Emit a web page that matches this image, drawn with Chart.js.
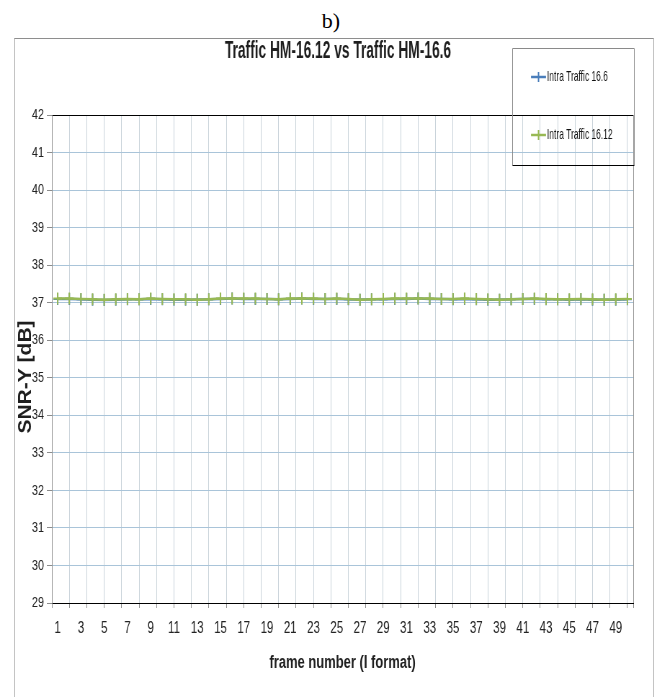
<!DOCTYPE html>
<html>
<head>
<meta charset="utf-8">
<title>Traffic HM-16.12 vs Traffic HM-16.6</title>
<script src="https://cdn.jsdelivr.net/npm/chart.js@4.4.0/dist/chart.umd.min.js"></script>
<style>
  html, body { margin: 0; padding: 0; background: #fff; }
  body { width: 657px; height: 697px; position: relative; overflow: hidden; }
  #panel {
    position: absolute; left: 0; top: 8px; width: 662px;
    text-align: center; line-height: 1;
    font: 22px 'Liberation Serif', 'DejaVu Serif', serif; color: #000;
  }
  #frame {
    position: absolute; left: 14px; top: 38px; width: 640px; height: 700px;
    box-sizing: border-box; border: 1px solid #c4c4c4; border-top-color: #8e8e8e;
  }
  #c { position: absolute; left: 0; top: 0; }
</style>
</head>
<body>
<div id="panel">b)</div>
<div id="frame"></div>
<!-- the drawing surface is wider than its box and squeezed horizontally -->
<canvas id="c" width="912" height="697" style="width:657px;height:697px"></canvas>
<script>
// ---- data ----
const frames = [1, 2, 3, 4, 5, 6, 7, 8, 9, 10, 11, 12, 13, 14, 15, 16, 17, 18, 19, 20,
                21, 22, 23, 24, 25, 26, 27, 28, 29, 30, 31, 32, 33, 34, 35, 36, 37, 38, 39, 40,
                41, 42, 43, 44, 45, 46, 47, 48, 49, 50];
const xTickLabels = [1, 3, 5, 7, 9, 11, 13, 15, 17, 19, 21, 23, 25, 27, 29, 31, 33, 35, 37, 39, 41, 43, 45, 47, 49];
const yRange = [29, 42];
const seriesNames = ['Intra Traffic 16.6', 'Intra Traffic 16.12'];
const snrTraffic16_6 = [37.10, 37.10, 37.09, 37.08, 37.07, 37.08, 37.09, 37.09, 37.10, 37.09,
                        37.08, 37.08, 37.08, 37.09, 37.10, 37.11, 37.10, 37.10, 37.10, 37.09,
                        37.10, 37.11, 37.10, 37.10, 37.10, 37.09, 37.08, 37.09, 37.09, 37.10,
                        37.10, 37.11, 37.10, 37.10, 37.09, 37.10, 37.09, 37.08, 37.08, 37.09,
                        37.10, 37.10, 37.09, 37.09, 37.08, 37.09, 37.08, 37.08, 37.08, 37.09];
const snrTraffic16_12 = [37.11, 37.11, 37.10, 37.09, 37.08, 37.09, 37.10, 37.09, 37.11, 37.10,
                         37.09, 37.09, 37.08, 37.09, 37.11, 37.11, 37.11, 37.11, 37.10, 37.09,
                         37.11, 37.11, 37.11, 37.10, 37.11, 37.10, 37.08, 37.09, 37.10, 37.11,
                         37.11, 37.11, 37.11, 37.10, 37.10, 37.11, 37.10, 37.09, 37.08, 37.09,
                         37.10, 37.11, 37.10, 37.09, 37.09, 37.10, 37.09, 37.08, 37.09, 37.10];
const chartTitle = 'Traffic HM-16.12 vs Traffic HM-16.6';
const xTitle = 'frame number (I format)';
const yTitle = 'SNR-Y [dB]';

// ---- layout helpers ----
const canvas = document.getElementById('c');
const SQUEEZE = 657 / canvas.width;          // horizontal squeeze of the drawing surface
const cx = x => x / SQUEEZE;                   // page x -> canvas x
const SANS = "'Liberation Sans', Arial, sans-serif";
const BLUE = '#4a7ebb';
const GREEN = '#98b954';

const points = vals => frames.map((f, i) => ({ x: f, y: vals[i] }));

// condensed text: squeeze glyphs horizontally by k around (x, y)
function narrowText(ctx, text, x, y, k) {
  ctx.save();
  ctx.translate(x, y);
  ctx.scale(k, 1);
  ctx.fillText(text, 0, 0);
  ctx.restore();
}

// chart title, vertical axis title and the boxed key
const headerAndKey = {
  id: 'headerAndKey',
  afterDraw(chart) {
    const ctx = chart.ctx;
    ctx.save();
    ctx.fillStyle = '#1e1e1e';
    ctx.textBaseline = 'middle';

    ctx.font = `bold 23px ${SANS}`;
    ctx.textAlign = 'center';
    narrowText(ctx, chartTitle, cx(338), 52, 0.83);

    // vertical axis title, read bottom to top
    ctx.save();
    ctx.translate(cx(26), 377);
    ctx.rotate(-Math.PI / 2);
    ctx.scale(1, 1.2);
    ctx.font = `bold 21px ${SANS}`;
    ctx.fillText(yTitle, 0, 0);
    ctx.restore();

    const L = Math.round(cx(512)) + 0.5, R = Math.round(cx(634)) + 0.5, T = 48.5, B = 165.5;
    ctx.lineWidth = 1;
    ctx.strokeStyle = '#8a8a8a';
    ctx.beginPath();
    ctx.moveTo(L, B); ctx.lineTo(L, T); ctx.lineTo(R, T); ctx.lineTo(R, B);
    ctx.stroke();
    ctx.strokeStyle = '#000';
    ctx.beginPath(); ctx.moveTo(L, B); ctx.lineTo(R, B); ctx.stroke();

    const rows = [77, 135];
    chart.data.datasets.forEach((ds, i) => {
      const y = rows[i];
      ctx.strokeStyle = ds.borderColor;
      ctx.lineWidth = 2.5;
      ctx.beginPath(); ctx.moveTo(cx(531), y); ctx.lineTo(cx(546), y); ctx.stroke();
      const mx = cx(538.5);
      ctx.lineWidth = 2;
      ctx.beginPath();
      ctx.moveTo(mx, y - 5); ctx.lineTo(mx, y + 5);
      ctx.moveTo(mx - 6, y); ctx.lineTo(mx + 6, y);
      ctx.stroke();
      ctx.fillStyle = '#111';
      ctx.font = `15px ${SANS}`;
      ctx.textAlign = 'left';
      narrowText(ctx, ds.label, cx(547), y, 0.78);
    });
    ctx.restore();
  }
};

new Chart(canvas, {
  type: 'line',
  data: {
    datasets: [
      {
        label: seriesNames[0], data: points(snrTraffic16_6), order: 2,
        borderColor: BLUE, backgroundColor: BLUE, borderWidth: 2.5,
        pointStyle: 'cross', pointRadius: 6, pointBorderWidth: 2, pointBorderColor: BLUE
      },
      {
        label: seriesNames[1], data: points(snrTraffic16_12), order: 1,
        borderColor: GREEN, backgroundColor: GREEN, borderWidth: 2.5,
        pointStyle: 'cross', pointRadius: 6, pointBorderWidth: 2, pointBorderColor: GREEN
      }
    ]
  },
  options: {
    responsive: false,
    animation: false,
    devicePixelRatio: 1,
    layout: { padding: { top: 115, right: canvas.width - Math.round(cx(633)), left: 0, bottom: 0 } },
    elements: { line: { tension: 0 } },
    plugins: { legend: { display: false }, title: { display: false }, tooltip: { enabled: false } },
    scales: {
      x: {
        type: 'linear',
        min: 0.5,
        max: 50.5,
        afterBuildTicks(scale) {
          // vertical rules every 1.5 frames, labels on odd frames
          const ticks = [];
          for (let k = 0; scale.min + 1.5 * k <= scale.max; k++) ticks.push({ value: scale.min + 1.5 * k, rule: true });
          ticks.push({ value: scale.max, rule: true, edge: true });
          xTickLabels.forEach(v => ticks.push({ value: v, rule: false }));
          ticks.sort((a, b) => a.value - b.value);
          scale.ticks = ticks;
        },
        afterFit(scale) { scale.height = 94; },
        ticks: {
          autoSkip: false, maxRotation: 0, padding: 11, color: '#222',
          font: { family: SANS, size: 16 },
          callback: (v, i, t) => (t[i].rule ? '' : String(v))
        },
        grid: {
          lineWidth: 1,
          tickLength: 5,
          color: c => (c.tick && c.tick.rule ? (c.tick.edge ? '#9a9a9a' : '#c9d3da') : 'rgba(0,0,0,0)'),
          tickColor: c => (c.tick && c.tick.rule ? '#8c8c8c' : 'rgba(0,0,0,0)')
        },
        border: { color: '#000', width: 1 },
        title: {
          display: true, text: xTitle, color: '#1e1e1e',
          font: { family: SANS, size: 18, weight: 'bold' },
          padding: { top: 0, bottom: 23 }
        }
      },
      y: {
        min: yRange[0],
        max: yRange[1],
        afterFit(scale) { scale.width = Math.round(cx(52)); },
        ticks: { stepSize: 1, padding: 4, color: '#222', font: { family: SANS, size: 15 } },
        grid: {
          lineWidth: 1,
          tickLength: 7,
          color: c => (c.tick && (c.tick.value === yRange[0] || c.tick.value === yRange[1]) ? '#000' : '#a9c4d9'),
          tickColor: '#8c8c8c'
        },
        border: { color: '#8c8c8c', width: 1 },
        title: { display: false, text: yTitle }
      }
    }
  },
  plugins: [headerAndKey]
});
</script>
</body>
</html>
